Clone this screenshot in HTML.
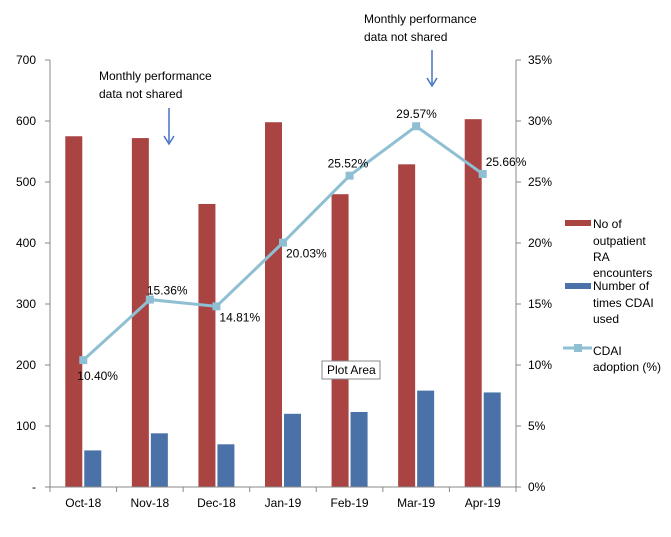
<!DOCTYPE html>
<html><head><meta charset="utf-8"><style>
body{margin:0;background:#fff;}
svg text{font-family:"Liberation Sans",sans-serif;font-size:12px;fill:#000;}
</style></head><body>
<svg id="c" width="671" height="532">
<rect width="671" height="532" fill="#fff"/>
<g id="bars"></g>
<g id="line"></g>
<g id="axes"></g>
<text x="364" y="23">Monthly performance</text>
<text x="364" y="41">data not shared</text>
<line x1="432" y1="50" x2="432" y2="84" stroke="#4472c4" stroke-width="1.5"/>
<path d="M427,78 L432,86 L437,78" fill="none" stroke="#4472c4" stroke-width="1.5"/>
<text x="99" y="80">Monthly performance</text>
<text x="99" y="98">data not shared</text>
<line x1="169" y1="108" x2="169" y2="142" stroke="#4472c4" stroke-width="1.5"/>
<path d="M164,136 L169,144 L174,136" fill="none" stroke="#4472c4" stroke-width="1.5"/>
<g>
<rect x="322" y="361" width="58" height="18" fill="#fff" stroke="#888"/>
<text x="327" y="374" font-size="11">Plot Area</text></g>
<g>
<rect x="565" y="220" width="26" height="6" fill="#a94442"/>
<text x="593" y="228">No of</text>
<text x="593" y="245">outpatient</text>
<text x="593" y="261">RA</text>
<text x="593" y="277">encounters</text>
<rect x="565" y="283" width="26" height="6" fill="#4a72a8"/>
<text x="593" y="290">Number of</text>
<text x="593" y="307">times CDAI</text>
<text x="593" y="323">used</text>
<line x1="563" y1="348" x2="592" y2="348" stroke="#8fbfd3" stroke-width="3"/>
<rect x="574" y="344" width="8" height="8" fill="#8fbfd3"/>
<text x="593" y="355">CDAI</text>
<text x="593" y="371">adoption (%)</text>
</g>
</svg>
<script>
const categories=["Oct-18","Nov-18","Dec-18","Jan-19","Feb-19","Mar-19","Apr-19"];
const encounters=[575,572,464,598,480,529,603];
const cdaiUsed=[60,88,70,120,123,158,155];
const adoption=[10.40,15.36,14.81,20.03,25.52,29.57,25.66];
const leftTicks=[0,100,200,300,400,500,600,700];
const leftTickLabels=["-","100","200","300","400","500","600","700"];
const rightTicks=[0,5,10,15,20,25,30,35];
const NS="http://www.w3.org/2000/svg";
const X0=50,X1=516,Y0=487,Y1=60;
const cw=(X1-X0)/categories.length;
const yL=v=>Y0-v/700*(Y0-Y1);
const yR=v=>Y0-v/35*(Y0-Y1);
const xc=i=>X0+cw*(i+0.5);
function mk(t,a,p){const e=document.createElementNS(NS,t);for(const k in a)e.setAttribute(k,a[k]);p.appendChild(e);return e;}
const bars=document.getElementById('bars'),axes=document.getElementById('axes'),line=document.getElementById('line');
categories.forEach((c,i)=>{
 let r=mk('rect',{x:xc(i)-18,y:yL(encounters[i]),width:17,height:Y0-yL(encounters[i]),fill:'#a94442'},bars);
 
 
 let b=mk('rect',{x:xc(i)+1,y:yL(cdaiUsed[i]),width:17,height:Y0-yL(cdaiUsed[i]),fill:'#4a72a8'},bars);
 
 
 let t=mk('text',{x:xc(i),y:507,'text-anchor':'middle'},axes);t.textContent=c;
 
 
});
mk('line',{x1:X0,y1:Y0,x2:X1,y2:Y0,stroke:'#888'},axes);
mk('line',{x1:X0,y1:Y1,x2:X0,y2:Y0,stroke:'#888'},axes);
mk('line',{x1:X1,y1:Y1,x2:X1,y2:Y0,stroke:'#888'},axes);
for(let i=0;i<=categories.length;i++)mk('line',{x1:X0+cw*i,y1:Y0,x2:X0+cw*i,y2:Y0+5,stroke:'#888'},axes);
leftTicks.forEach((v,i)=>{mk('line',{x1:X0-5,y1:yL(v),x2:X0,y2:yL(v),stroke:'#888'},axes);
 let t=mk('text',{x:36,y:yL(v)+4,'text-anchor':'end'},axes);t.textContent=leftTickLabels[i];
 
 });
rightTicks.forEach(v=>{mk('line',{x1:X1,y1:yR(v),x2:X1+5,y2:yR(v),stroke:'#888'},axes);
 let t=mk('text',{x:528,y:yR(v)+4},axes);t.textContent=v+'%';
 
 });
let pts=adoption.map((v,i)=>xc(i)+','+yR(v)).join(' ');
let pl=mk('polyline',{points:pts,fill:'none',stroke:'#8fbfd3','stroke-width':3},line);


const off=[[-6,20],[-3,-5],[3,15],[3,15],[-22,-8],[-20,-8],[3,-8]];
adoption.forEach((v,i)=>{let m=mk('rect',{x:xc(i)-4,y:yR(v)-4,width:8,height:8,fill:'#8fbfd3'},line);
 
 
 let t=mk('text',{x:xc(i)+off[i][0],y:yR(v)+off[i][1]},line);t.textContent=v.toFixed(2)+'%';
 
 });
</script>
</body></html>
